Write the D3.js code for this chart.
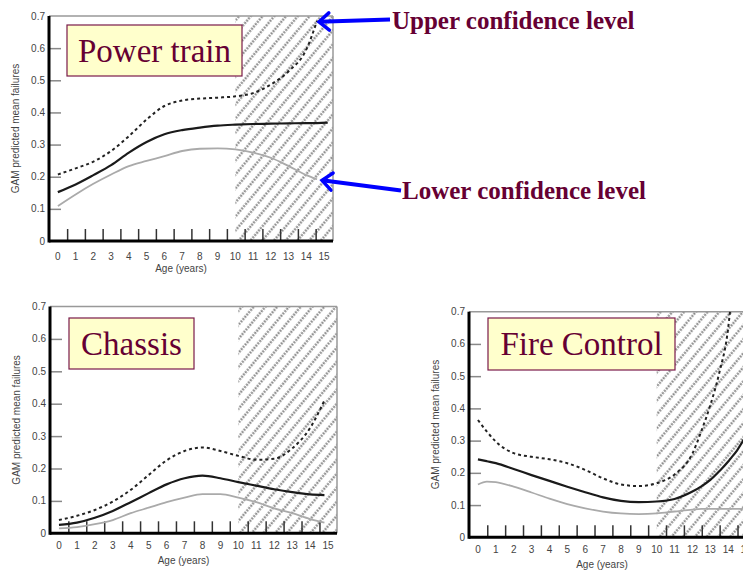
<!DOCTYPE html>
<html>
<head>
<meta charset="utf-8">
<script src="https://cdn.jsdelivr.net/npm/d3@7"></script>
<style>
  body { margin: 0; background: #fff; }
  svg { display: block; }
</style>
</head>
<body>
<div id="content"></div>
<script>
// ages (years) and GAM curves
var ptAge   = [0, 1, 2, 3, 4, 5, 6, 7, 8, 9, 10, 11, 12, 13, 14, 14.6, 15.2];
var ptMean  = [0.152, 0.176, 0.205, 0.236, 0.275, 0.308, 0.332, 0.345, 0.353, 0.359, 0.362, 0.364, 0.365, 0.366, 0.367, 0.367, 0.368];
var ptUpper = [0.207, 0.226, 0.247, 0.28, 0.326, 0.378, 0.42, 0.437, 0.443, 0.446, 0.45, 0.46, 0.487, 0.528, 0.596, 0.685, null];
var ptLower = [0.109, 0.145, 0.178, 0.207, 0.233, 0.249, 0.264, 0.28, 0.287, 0.288, 0.285, 0.275, 0.259, 0.233, 0.205, 0.192, null];

var chAge   = [0, 1, 2, 3, 4, 5, 6, 7, 8, 9, 10, 11, 12, 13, 14, 14.8];
var chMean  = [0.026, 0.033, 0.048, 0.069, 0.096, 0.124, 0.151, 0.17, 0.178, 0.17, 0.158, 0.147, 0.136, 0.127, 0.12, 0.118];
var chUpper = [0.041, 0.054, 0.072, 0.098, 0.134, 0.18, 0.225, 0.254, 0.265, 0.254, 0.239, 0.227, 0.23, 0.262, 0.325, 0.41];
var chLower = [0.015, 0.019, 0.028, 0.041, 0.062, 0.079, 0.096, 0.11, 0.121, 0.121, 0.11, 0.096, 0.077, 0.062, 0.044, 0.033];

var fcAge   = [0, 0.5, 1, 2, 3, 4, 5, 6, 7, 8, 9, 10, 11, 12, 12.5, 13, 13.5, 14, 14.1, 14.5, 15];
var fcMean  = [0.242, 0.236, 0.23, 0.212, 0.193, 0.175, 0.157, 0.14, 0.124, 0.113, 0.109, 0.111, 0.119, 0.142, 0.158, 0.178, 0.205, 0.235, 0.242, 0.27, 0.315];
var fcUpper = [0.364, 0.328, 0.297, 0.261, 0.25, 0.242, 0.23, 0.209, 0.183, 0.164, 0.159, 0.168, 0.195, 0.26, 0.33, 0.41, 0.51, 0.65, 0.7, null, null];
var fcLower = [0.164, 0.173, 0.171, 0.157, 0.139, 0.12, 0.103, 0.09, 0.08, 0.074, 0.072, 0.074, 0.08, 0.086, 0.088, 0.088, 0.088, 0.088, 0.088, 0.088, 0.088];

var rugAges = [0.55, 1.55, 2.55, 3.55, 4.55, 5.55, 6.55, 7.55, 8.55, 9.55, 10.55, 11.55, 12.55, 13.55, 14.55];
var xTicks = [0, 1, 2, 3, 4, 5, 6, 7, 8, 9, 10, 11, 12, 13, 14, 15];
var yTicks = [0, 0.1, 0.2, 0.3, 0.4, 0.5, 0.6, 0.7];
var hatchStart = 10;

var upperNote = "Upper confidence level";
var lowerNote = "Lower confidence level";

var W = 743, H = 572;
var sans = "'Liberation Sans', Arial, sans-serif";
var serif = "'Liberation Serif', 'Times New Roman', serif";
var maroon = "#660033";

var svg = d3.select('#content')
    .append('svg')
    .attr('width', W)
    .attr('height', H);

var defs = svg.append('defs');
var pat = defs.append('pattern')
    .attr('id', 'hatch')
    .attr('patternUnits', 'userSpaceOnUse')
    .attr('width', 9)
    .attr('height', 9)
    .attr('patternTransform', 'rotate(40)');
pat.append('line')
    .attr('x1', 4.5).attr('x2', 4.5)
    .attr('y1', 0).attr('y2', 9)
    .attr('stroke', '#8a8a8a')
    .attr('stroke-width', 2.2)
    .attr('stroke-dasharray', '2,1');

var marker = defs.append('marker')
    .attr('id', 'arrowhead')
    .attr('viewBox', '0 0 10 10')
    .attr('refX', 1)
    .attr('refY', 5)
    .attr('markerWidth', 3.6)
    .attr('markerHeight', 3.6)
    .attr('markerUnits', 'strokeWidth')
    .attr('orient', 'auto')
    .style('overflow', 'visible');
marker.append('path')
    .attr('d', 'M-6,-1 L1,5 L-6,11')
    .attr('fill', 'none')
    .attr('stroke', '#0000ff')
    .attr('stroke-width', 2.4)
    .attr('stroke-linecap', 'round');

function plot_panel(p){
    var x = d3.scaleLinear().domain([-0.5, 15.5]).range([p.left, p.right]);
    var y = d3.scaleLinear().domain([0, 0.7]).range([p.bottom, p.top]);
    var g = svg.append('g');

    // hatched extrapolation region
    g.append('rect')
        .attr('x', x(hatchStart))
        .attr('y', y(0.7))
        .attr('width', x(15.5) - x(hatchStart))
        .attr('height', y(0) - y(0.7))
        .attr('fill', 'url(#hatch)');

    // top and right frame
    g.append('line')
        .attr('x1', x(-0.5)).attr('x2', x(15.5))
        .attr('y1', y(0.7)).attr('y2', y(0.7))
        .attr('stroke', '#999').attr('stroke-width', 1.5);
    g.append('line')
        .attr('x1', x(15.5)).attr('x2', x(15.5))
        .attr('y1', y(0.7)).attr('y2', y(0))
        .attr('stroke', '#999').attr('stroke-width', 1.5);

    // y axis with inward ticks
    var yAxis = d3.axisRight(y)
        .tickValues(yTicks.slice(1, 7))
        .tickSize(12)
        .tickFormat('');
    var ya = g.append('g')
        .attr('transform', 'translate(' + x(-0.5) + ',0)')
        .call(yAxis);
    ya.select('.domain').remove();
    ya.selectAll('line').attr('stroke', '#888').attr('stroke-width', 1.5);

    g.append('g')
        .selectAll('text')
        .data(yTicks)
        .enter()
        .append('text')
        .attr('x', x(-0.5) - 4)
        .attr('y', function(d){ return y(d) + 3.5; })
        .attr('text-anchor', 'end')
        .attr('font-family', sans)
        .attr('font-size', 10)
        .attr('fill', '#444')
        .text(function(d){ return d == 0 ? '0' : d3.format('.1f')(d); });

    // rug ticks
    g.append('g')
        .selectAll('line')
        .data(rugAges)
        .enter()
        .append('line')
        .attr('x1', function(d){ return x(d); })
        .attr('x2', function(d){ return x(d); })
        .attr('y1', y(0))
        .attr('y2', y(0) - 12)
        .attr('stroke', '#333')
        .attr('stroke-width', 1.5);

    // x tick labels
    g.append('g')
        .selectAll('text')
        .data(xTicks)
        .enter()
        .append('text')
        .attr('x', function(d){ return x(d); })
        .attr('y', y(0) + p.labelGap)
        .attr('text-anchor', 'middle')
        .attr('font-family', sans)
        .attr('font-size', 10)
        .attr('fill', '#444')
        .text(function(d){ return d; });

    g.append('text')
        .attr('x', (x(-0.5) + x(15.5)) / 2 - 10)
        .attr('y', y(0) + 31)
        .attr('text-anchor', 'middle')
        .attr('font-family', sans)
        .attr('font-size', 10)
        .attr('fill', '#444')
        .text('Age (years)');

    g.append('text')
        .attr('transform', 'translate(' + (x(-0.5) - 30) + ',' + ((y(0) + y(0.7)) / 2) + ') rotate(-90)')
        .attr('text-anchor', 'middle')
        .attr('font-family', sans)
        .attr('font-size', 10)
        .attr('fill', '#444')
        .text('GAM predicted mean failures');

    // curves
    function series(vals){
        return p.age.map(function(a, i){ return {age: a, v: vals[i]}; });
    }
    var line = d3.line()
        .defined(function(d){ return d.v != null; })
        .x(function(d){ return x(d.age); })
        .y(function(d){ return y(d.v); })
        .curve(d3.curveMonotoneX);

    g.append('path')
        .attr('d', line(series(p.lower)))
        .attr('fill', 'none')
        .attr('stroke', '#aaa')
        .attr('stroke-width', 1.8);
    g.append('path')
        .attr('d', line(series(p.upper)))
        .attr('fill', 'none')
        .attr('stroke', '#222')
        .attr('stroke-width', 2)
        .attr('stroke-dasharray', '3,3');
    g.append('path')
        .attr('d', line(series(p.mean)))
        .attr('fill', 'none')
        .attr('stroke', '#1a1a1a')
        .attr('stroke-width', 2.2);

    // main axes (thick)
    g.append('line')
        .attr('x1', x(-0.5)).attr('x2', x(-0.5))
        .attr('y1', y(0.7)).attr('y2', y(0) + 1.5)
        .attr('stroke', '#000').attr('stroke-width', 3);
    g.append('line')
        .attr('x1', x(-0.5)).attr('x2', x(15.5))
        .attr('y1', y(0)).attr('y2', y(0))
        .attr('stroke', '#000').attr('stroke-width', 3);

    // title box
    var t = g.append('text')
        .attr('x', p.box[0] + p.box[2] / 2)
        .attr('y', p.box[1] + p.box[3] / 2 + 11)
        .attr('text-anchor', 'middle')
        .attr('font-family', serif)
        .attr('font-size', 33)
        .attr('fill', maroon)
        .text(p.name);
    g.insert('rect', function(){ return t.node(); })
        .attr('x', p.box[0])
        .attr('y', p.box[1])
        .attr('width', p.box[2])
        .attr('height', p.box[3])
        .attr('fill', '#ffffcc')
        .attr('stroke', '#7a1a4a')
        .attr('stroke-width', 1.2);

    return {x: x, y: y};
}

var pt = plot_panel({name: 'Power train', age: ptAge, mean: ptMean, upper: ptUpper, lower: ptLower,
    left: 49, right: 333, top: 16, bottom: 241, labelGap: 18.5, box: [67, 25, 175, 51]});
plot_panel({name: 'Chassis', age: chAge, mean: chMean, upper: chUpper, lower: chLower,
    left: 50, right: 337, top: 306.5, bottom: 533.3, labelGap: 16, box: [69, 318, 125, 51]});
plot_panel({name: 'Fire Control', age: fcAge, mean: fcMean, upper: fcUpper, lower: fcLower,
    left: 469, right: 755, top: 311.7, bottom: 537.3, labelGap: 15.5, box: [488, 318, 187, 52]});

// annotation arrows pointing at the ends of the power train bands
function end_point(vals){
    var i = vals.length - 1;
    while(vals[i] == null){ i--; }
    return [pt.x(ptAge[i]) + 2, pt.y(vals[i]) + 1];
}
var upTip = end_point(ptUpper);
var loTip = end_point(ptLower);

svg.append('line')
    .attr('x1', 390).attr('y1', 19.5)
    .attr('x2', upTip[0]).attr('y2', upTip[1])
    .attr('stroke', '#0000ff')
    .attr('stroke-width', 4)
    .attr('marker-end', 'url(#arrowhead)');
svg.append('line')
    .attr('x1', 401).attr('y1', 190.5)
    .attr('x2', loTip[0] + 3).attr('y2', loTip[1])
    .attr('stroke', '#0000ff')
    .attr('stroke-width', 4)
    .attr('marker-end', 'url(#arrowhead)');

svg.append('text')
    .attr('x', 392).attr('y', 29)
    .attr('font-family', serif)
    .attr('font-weight', 'bold')
    .attr('font-size', 25)
    .attr('fill', maroon)
    .text(upperNote);
svg.append('text')
    .attr('x', 402).attr('y', 199)
    .attr('font-family', serif)
    .attr('font-weight', 'bold')
    .attr('font-size', 25)
    .attr('fill', maroon)
    .text(lowerNote);
</script>
</body>
</html>
